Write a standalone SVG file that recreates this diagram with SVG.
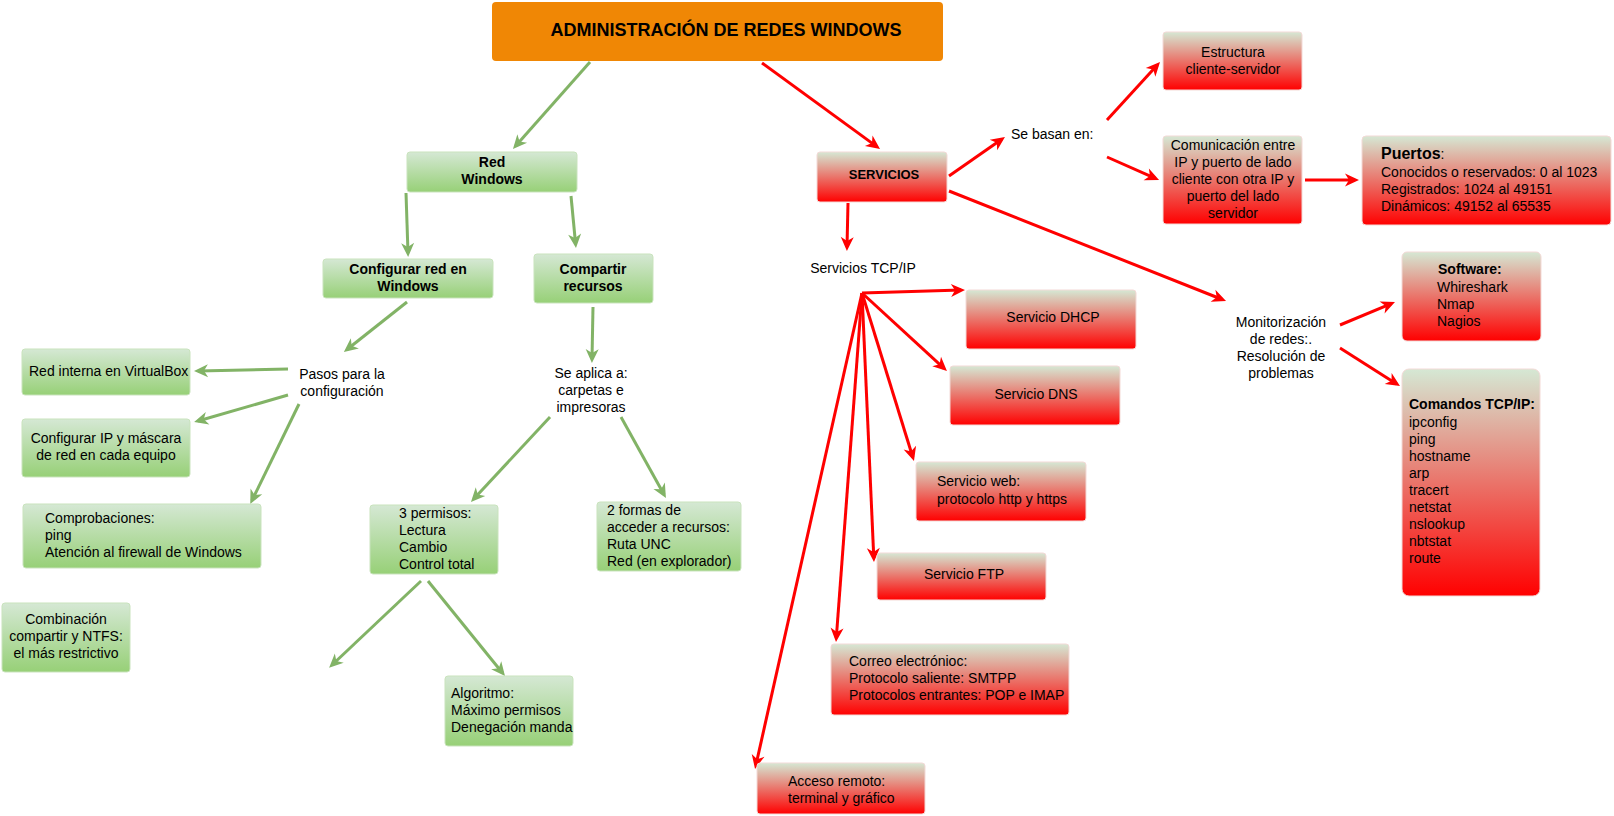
<svg xmlns="http://www.w3.org/2000/svg" width="1614" height="816" viewBox="0 0 1614 816">
<defs>
<linearGradient id="gGreen" x1="0" y1="0" x2="0" y2="1">
<stop offset="0" stop-color="#d5e8d4"/>
<stop offset="1" stop-color="#97d077"/>
</linearGradient>
<linearGradient id="gRed" x1="0" y1="0" x2="0" y2="1">
<stop offset="0" stop-color="#d5e8d4"/>
<stop offset="1" stop-color="#ff0000"/>
</linearGradient>
<marker id="aG" markerUnits="userSpaceOnUse" markerWidth="16" markerHeight="14" refX="10" refY="6.5" orient="auto" overflow="visible">
<path d="M0,0 L14,6.5 L0,13 L4,6.5 Z" fill="#82b366"/>
</marker>
<marker id="aR" markerUnits="userSpaceOnUse" markerWidth="16" markerHeight="14" refX="10" refY="6.5" orient="auto" overflow="visible">
<path d="M0,0 L14,6.5 L0,13 L4,6.5 Z" fill="#ff0000"/>
</marker>
</defs>
<style>
text{font-family:"Liberation Sans",Arial,sans-serif;font-size:14px;fill:#000}
.b{font-weight:bold}
.c{text-anchor:middle}
.gn{fill:url(#gGreen);stroke:#c9e3bd;stroke-width:1}
.rd{fill:url(#gRed);stroke:#f3d9d6;stroke-width:1}
.lg{stroke:#82b366;stroke-width:3;fill:none;marker-end:url(#aG)}
.lr{stroke:#ff0000;stroke-width:3;fill:none;marker-end:url(#aR)}
</style>
<rect width="1614" height="816" fill="#ffffff"/>

<g id="connectors">
<line class="lg" x1="590" y1="62" x2="515.6" y2="146"/>
<line class="lg" x1="406" y1="193" x2="408" y2="253"/>
<line class="lg" x1="571" y1="196" x2="575.6" y2="244"/>
<line class="lg" x1="407" y1="302" x2="347" y2="349.5"/>
<line class="lg" x1="288" y1="369" x2="198" y2="371"/>
<line class="lg" x1="288" y1="395" x2="198" y2="421"/>
<line class="lg" x1="299" y1="404" x2="252" y2="500.4"/>
<line class="lg" x1="593" y1="307" x2="592" y2="359"/>
<line class="lg" x1="550" y1="417" x2="473.7" y2="499"/>
<line class="lg" x1="621" y1="417" x2="664" y2="494.5"/>
<line class="lg" x1="421" y1="581" x2="332" y2="665"/>
<line class="lg" x1="428" y1="581" x2="502.5" y2="673"/>

<line class="lr" x1="762" y1="63" x2="876.8" y2="146.6"/>
<line class="lr" x1="848" y1="203" x2="847" y2="247"/>
<line class="lr" x1="949" y1="176" x2="1001.7" y2="139.3"/>
<line class="lr" x1="1107" y1="120" x2="1157.3" y2="65"/>
<line class="lr" x1="1107" y1="157" x2="1155.4" y2="178.4"/>
<line class="lr" x1="1305" y1="180" x2="1355" y2="180"/>
<line class="lr" x1="949" y1="191" x2="1222.3" y2="299.5"/>
<line class="lr" x1="1340" y1="325" x2="1391.3" y2="303.6"/>
<line class="lr" x1="1340" y1="348" x2="1396.6" y2="383.9"/>
<line class="lr" x1="862" y1="293" x2="961" y2="290.1"/>
<line class="lr" x1="862" y1="293" x2="944" y2="368.3"/>
<line class="lr" x1="862" y1="293" x2="912.8" y2="457.2"/>
<line class="lr" x1="862" y1="293" x2="873.8" y2="558"/>
<line class="lr" x1="862" y1="293" x2="836.3" y2="638"/>
<line class="lr" x1="862" y1="293" x2="755.9" y2="765.1"/>
</g>

<g id="title">
<rect x="492" y="2" width="451" height="59" rx="4" fill="#f08705"/>
<text class="b c" x="726" y="36" style="font-size:18px">ADMINISTRACIÓN DE REDES WINDOWS</text>
</g>

<g id="red-windows">
<rect class="gn" x="407" y="152" width="170" height="40" rx="3"/>
<text class="b c" x="492" y="167">Red</text>
<text class="b c" x="492" y="184">Windows</text>
</g>

<g id="configurar-red">
<rect class="gn" x="323" y="259" width="170" height="39" rx="3"/>
<text class="b c" x="408" y="274">Configurar red en</text>
<text class="b c" x="408" y="291">Windows</text>
</g>

<g id="compartir-recursos">
<rect class="gn" x="534" y="254" width="119" height="49" rx="3"/>
<text class="b c" x="593" y="274">Compartir</text>
<text class="b c" x="593" y="291">recursos</text>
</g>

<g id="pasos">
<text class="c" x="342" y="379">Pasos para la</text>
<text class="c" x="342" y="396">configuración</text>
</g>

<g id="red-interna">
<rect class="gn" x="22" y="349" width="168" height="46" rx="3"/>
<text x="29" y="376">Red interna en VirtualBox</text>
</g>

<g id="configurar-ip">
<rect class="gn" x="22" y="419" width="168" height="58" rx="3"/>
<text class="c" x="106" y="443">Configurar IP y máscara</text>
<text class="c" x="106" y="460">de red en cada equipo</text>
</g>

<g id="comprobaciones">
<rect class="gn" x="23" y="504" width="238" height="64" rx="3"/>
<text x="45" y="523">Comprobaciones:</text>
<text x="45" y="540">ping</text>
<text x="45" y="557">Atención al firewall de Windows</text>
</g>

<g id="combinacion">
<rect class="gn" x="2" y="603" width="128" height="69" rx="3"/>
<text class="c" x="66" y="624">Combinación</text>
<text class="c" x="66" y="641">compartir y NTFS:</text>
<text class="c" x="66" y="658">el más restrictivo</text>
</g>

<g id="se-aplica">
<text class="c" x="591" y="378">Se aplica a:</text>
<text class="c" x="591" y="395">carpetas e</text>
<text class="c" x="591" y="412">impresoras</text>
</g>

<g id="permisos">
<rect class="gn" x="370" y="505" width="128" height="69" rx="3"/>
<text x="399" y="518">3 permisos:</text>
<text x="399" y="535">Lectura</text>
<text x="399" y="552">Cambio</text>
<text x="399" y="569">Control total</text>
</g>

<g id="formas">
<rect class="gn" x="597" y="502" width="144" height="69" rx="3"/>
<text x="607" y="515">2 formas de</text>
<text x="607" y="532">acceder a recursos:</text>
<text x="607" y="549">Ruta UNC</text>
<text x="607" y="566">Red (en explorador)</text>
</g>

<g id="algoritmo">
<rect class="gn" x="445" y="676" width="128" height="70" rx="3"/>
<text x="451" y="698">Algoritmo:</text>
<text x="451" y="715">Máximo permisos</text>
<text x="451" y="732">Denegación manda</text>
</g>

<g id="servicios">
<rect class="rd" x="817" y="152" width="130" height="50" rx="3"/>
<text class="b c" x="884" y="179" style="font-size:13px">SERVICIOS</text>
</g>

<g id="se-basan">
<text x="1011" y="139">Se basan en:</text>
</g>

<g id="estructura">
<rect class="rd" x="1163" y="32" width="139" height="58" rx="3"/>
<text class="c" x="1233" y="57">Estructura</text>
<text class="c" x="1233" y="74">cliente-servidor</text>
</g>

<g id="comunicacion">
<rect class="rd" x="1163" y="136" width="139" height="88" rx="3"/>
<text class="c" x="1233" y="150">Comunicación entre</text>
<text class="c" x="1233" y="167">IP y puerto de lado</text>
<text class="c" x="1233" y="184">cliente con otra IP y</text>
<text class="c" x="1233" y="201">puerto del lado</text>
<text class="c" x="1233" y="218">servidor</text>
</g>

<g id="puertos">
<rect class="rd" x="1362" y="136" width="249" height="89" rx="4"/>
<text x="1381" y="159"><tspan class="b" style="font-size:16px">Puertos</tspan>:</text>
<text x="1381" y="177">Conocidos o reservados: 0 al 1023</text>
<text x="1381" y="194">Registrados: 1024 al 49151</text>
<text x="1381" y="211">Dinámicos: 49152 al 65535</text>
</g>

<g id="monitorizacion">
<text class="c" x="1281" y="327">Monitorización</text>
<text class="c" x="1281" y="344">de redes:.</text>
<text class="c" x="1281" y="361">Resolución de</text>
<text class="c" x="1281" y="378">problemas</text>
</g>

<g id="software">
<rect class="rd" x="1402" y="252" width="139" height="89" rx="5"/>
<text class="b" x="1438" y="274">Software:</text>
<text x="1437" y="292">Whireshark</text>
<text x="1437" y="309">Nmap</text>
<text x="1437" y="326">Nagios</text>
</g>

<g id="comandos">
<rect class="rd" x="1402" y="369" width="138" height="227" rx="7"/>
<text class="b" x="1409" y="409">Comandos TCP/IP:</text>
<text x="1409" y="427">ipconfig</text>
<text x="1409" y="444">ping</text>
<text x="1409" y="461">hostname</text>
<text x="1409" y="478">arp</text>
<text x="1409" y="495">tracert</text>
<text x="1409" y="512">netstat</text>
<text x="1409" y="529">nslookup</text>
<text x="1409" y="546">nbtstat</text>
<text x="1409" y="563">route</text>
</g>

<g id="servicios-tcpip">
<text class="c" x="863" y="273">Servicios TCP/IP</text>
</g>

<g id="dhcp">
<rect class="rd" x="966" y="290" width="170" height="59" rx="3"/>
<text class="c" x="1053" y="322">Servicio DHCP</text>
</g>

<g id="dns">
<rect class="rd" x="950" y="366" width="170" height="59" rx="3"/>
<text class="c" x="1036" y="399">Servicio DNS</text>
</g>

<g id="web">
<rect class="rd" x="916" y="462" width="170" height="59" rx="3"/>
<text x="937" y="486">Servicio web:</text>
<text x="937" y="504">protocolo http y https</text>
</g>

<g id="ftp">
<rect class="rd" x="877" y="553" width="169" height="47" rx="3"/>
<text class="c" x="964" y="579">Servicio FTP</text>
</g>

<g id="correo">
<rect class="rd" x="831" y="644" width="238" height="71" rx="3"/>
<text x="849" y="666">Correo electrónioc:</text>
<text x="849" y="683">Protocolo saliente: SMTPP</text>
<text x="849" y="700">Protocolos entrantes: POP e IMAP</text>
</g>

<g id="acceso">
<rect class="rd" x="757" y="763" width="168" height="51" rx="3"/>
<text x="788" y="786">Acceso remoto:</text>
<text x="788" y="803">terminal y gráfico</text>
</g>
</svg>
